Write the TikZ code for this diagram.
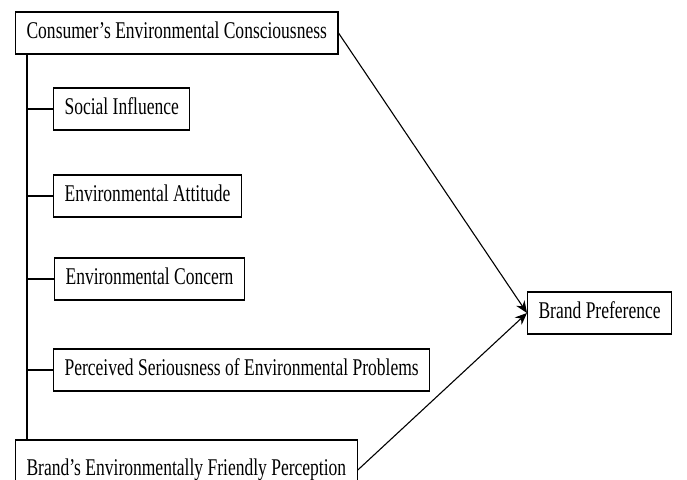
\documentclass[tikz,border=0pt]{standalone}
\usepackage{fontspec}
\setmainfont{Liberation Serif}[FakeStretch=0.73]
\usetikzlibrary{arrows.meta}
\begin{document}
\begin{tikzpicture}[x = 1pt, y = -1pt, line width = 1.1pt]
    \clip (0,0) rectangle (687,479);
    \fill[white] (0,0) rectangle (687,479);
    \coordinate (trunk) at (27,0);
    \begin{scope}[every node/.style={draw, rectangle, anchor = west, font=\fontsize{24}{26}\selectfont, text height = 15pt, text depth = 4pt, inner xsep = 11pt, minimum height = 42pt}]
    \node (cec) at (15,33) {Consumer’s Environmental Consciousness};
    \node (si) at (53,109) {Social Influence};
    \node (ea) at (53,196) {Environmental Attitude};
    \node (ec) at (54,279) {Environmental Concern};
    \node (ps) at (53,370) {Perceived Seriousness of Environmental Problems};
    \node[minimum height = 60pt] (bep) at (15,470) {Brand’s Environmentally Friendly Perception};
    \node (bp) at (527,313) {Brand Preference};
    \end{scope}
    \draw (cec.south -| trunk) -- (bep.north -| trunk);
    \draw (si.west) -- (si.west -| trunk);
    \draw (ea.west) -- (ea.west -| trunk);
    \draw (ec.west) -- (ec.west -| trunk);
    \draw (ps.west) -- (ps.west -| trunk);
    \begin{scope}[-{Stealth[length = 12pt, width = 10pt]}]
      \draw (cec.east) -- (bp.west);
      \draw (bep.east) -- (bp.west);
    \end{scope}
  \end{tikzpicture}
\end{document}
